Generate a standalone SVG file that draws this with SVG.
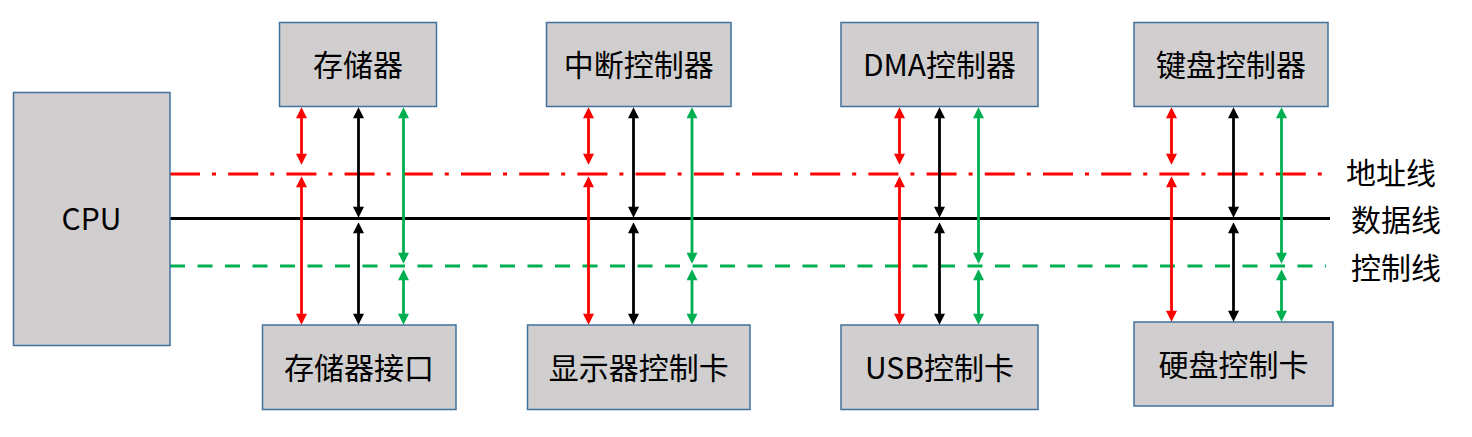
<svg xmlns="http://www.w3.org/2000/svg" width="1472" height="437" viewBox="0 0 1472 437">
<style>
.box{fill:#D0CECE;stroke:#41719C;stroke-width:1.5}
.t{font-family:"Noto Sans CJK SC","Noto Sans",sans-serif;font-size:30px;fill:#000;text-anchor:middle}
.lg{font-family:"Noto Sans CJK SC","Noto Sans",sans-serif;font-size:30px;fill:#000}
.ar{stroke-width:2.8;fill:none}
.r{stroke:#FF0000;marker-start:url(#mr);marker-end:url(#mr)}
.k{stroke:#000000;marker-start:url(#mk);marker-end:url(#mk)}
.g{stroke:#00B050;marker-start:url(#mg);marker-end:url(#mg)}
</style>
<defs>
<marker id="mr" viewBox="0 0 10 10" refX="3" refY="5" markerWidth="12" markerHeight="11" markerUnits="userSpaceOnUse" orient="auto-start-reverse"><path d="M0,0 L10,5 L0,10 z" fill="#FF0000"/></marker>
<marker id="mk" viewBox="0 0 10 10" refX="3" refY="5" markerWidth="12" markerHeight="11" markerUnits="userSpaceOnUse" orient="auto-start-reverse"><path d="M0,0 L10,5 L0,10 z" fill="#000000"/></marker>
<marker id="mg" viewBox="0 0 10 10" refX="3" refY="5" markerWidth="12" markerHeight="11" markerUnits="userSpaceOnUse" orient="auto-start-reverse"><path d="M0,0 L10,5 L0,10 z" fill="#00B050"/></marker>
</defs>
<rect width="1472" height="437" fill="#FFFFFF"/>

<g id="bus-lines">
<line x1="170" y1="174" x2="1326" y2="174" stroke="#FF0000" stroke-width="3" stroke-dasharray="30 12 4 12.2"/>
<line x1="170" y1="218.5" x2="1330" y2="218.5" stroke="#000000" stroke-width="3"/>
<line x1="170" y1="266" x2="1326" y2="266" stroke="#00B050" stroke-width="3" stroke-dasharray="15 12.5"/>
</g>

<g id="cpu"><rect class="box" x="13.5" y="92.5" width="156.5" height="253"/><text class="t" x="91.5" y="230">CPU</text></g>

<g id="mem"><rect class="box" x="279.5" y="22.5" width="157" height="84"/><text class="t" x="358" y="75.5">存储器</text></g>
<g id="int"><rect class="box" x="546.5" y="22.5" width="184.5" height="84"/><text class="t" x="638.7" y="75.5">中断控制器</text></g>
<g id="dma"><rect class="box" x="841" y="22.5" width="197" height="84"/><text class="t" x="939.5" y="75.5">DMA控制器</text></g>
<g id="kbd"><rect class="box" x="1134" y="22.5" width="194" height="84"/><text class="t" x="1231" y="75.5">键盘控制器</text></g>

<g id="memif"><rect class="box" x="262.5" y="325" width="193.5" height="84.5"/><text class="t" x="359" y="379">存储器接口</text></g>
<g id="disp"><rect class="box" x="527.5" y="325" width="222.5" height="84.5"/><text class="t" x="638.7" y="379">显示器控制卡</text></g>
<g id="usb"><rect class="box" x="841" y="325" width="197" height="84.5"/><text class="t" x="939.5" y="379">USB控制卡</text></g>
<g id="hdd"><rect class="box" x="1134" y="322" width="199" height="84"/><text class="t" x="1233.5" y="375.5">硬盘控制卡</text></g>

<g id="legend">
<text class="lg" x="1346" y="183.5">地址线</text>
<text class="lg" x="1351" y="230.5">数据线</text>
<text class="lg" x="1351" y="278.5">控制线</text>
</g>

<g id="connectors" class="ar">
<line class="r" x1="301.5" y1="115" x2="301.5" y2="157"/>
<line class="r" x1="301.5" y1="184" x2="301.5" y2="317"/>
<line class="k" x1="358.5" y1="115" x2="358.5" y2="210"/>
<line class="k" x1="358.5" y1="230" x2="358.5" y2="317"/>
<line class="g" x1="403.5" y1="115" x2="403.5" y2="256"/>
<line class="g" x1="403.5" y1="277" x2="403.5" y2="317"/>

<line class="r" x1="588.5" y1="115" x2="588.5" y2="157"/>
<line class="r" x1="588.5" y1="184" x2="588.5" y2="317"/>
<line class="k" x1="633.5" y1="115" x2="633.5" y2="210"/>
<line class="k" x1="633.5" y1="230" x2="633.5" y2="317"/>
<line class="g" x1="692" y1="115" x2="692" y2="256"/>
<line class="g" x1="692" y1="277" x2="692" y2="317"/>

<line class="r" x1="899.5" y1="115" x2="899.5" y2="157"/>
<line class="r" x1="899.5" y1="184" x2="899.5" y2="317"/>
<line class="k" x1="939.5" y1="115" x2="939.5" y2="210"/>
<line class="k" x1="939.5" y1="230" x2="939.5" y2="317"/>
<line class="g" x1="978.5" y1="115" x2="978.5" y2="256"/>
<line class="g" x1="978.5" y1="277" x2="978.5" y2="317"/>

<line class="r" x1="1171.5" y1="115" x2="1171.5" y2="157"/>
<line class="r" x1="1171.5" y1="184" x2="1171.5" y2="314"/>
<line class="k" x1="1233.5" y1="115" x2="1233.5" y2="210"/>
<line class="k" x1="1233.5" y1="230" x2="1233.5" y2="314"/>
<line class="g" x1="1281.5" y1="115" x2="1281.5" y2="256"/>
<line class="g" x1="1281.5" y1="277" x2="1281.5" y2="314"/>
</g>
</svg>
